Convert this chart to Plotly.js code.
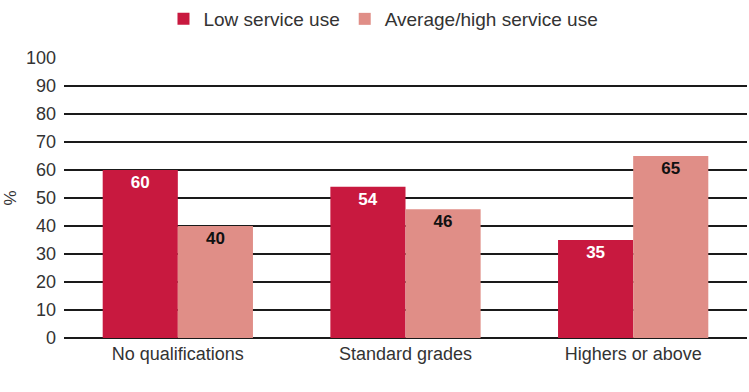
<!DOCTYPE html>
<html>
<head>
<meta charset="utf-8">
<script src="https://cdn.plot.ly/plotly-3.0.1.min.js"></script>
<style>html,body{margin:0;padding:0;background:#fff;}#chart{width:749px;height:392px;}</style>
</head>
<body>
<div id="chart"></div>
<script>
const categories = ["No qualifications", "Standard grades", "Highers or above"];
const lowUse = [60, 54, 35];
const avgHighUse = [40, 46, 65];
const seriesNames = ["Low service use", "Average/high service use"];
const yTicks = [0, 10, 20, 30, 40, 50, 60, 70, 80, 90, 100];

const font = "Liberation Sans, Arial, Helvetica, sans-serif";
const data = [
  {
    type: "bar", name: seriesNames[0], x: categories, y: lowUse,
    marker: {color: "#C8193F"},
    text: lowUse.map(String), textposition: "inside", insidetextanchor: "end",
    textfont: {family: font, size: 17, color: "#ffffff", weight: "bold"},
    textangle: 0, cliponaxis: false, hoverinfo: "skip"
  },
  {
    type: "bar", name: seriesNames[1], x: categories, y: avgHighUse,
    marker: {color: "#E08E87"},
    text: avgHighUse.map(String), textposition: "inside", insidetextanchor: "end",
    textfont: {family: font, size: 17, color: "#111111", weight: "bold"},
    textangle: 0, cliponaxis: false, hoverinfo: "skip"
  }
];

const layout = {
  width: 749, height: 392,
  margin: {l: 64, r: 2, t: 58, b: 54},
  paper_bgcolor: "#fff", plot_bgcolor: "#fff",
  font: {family: font, size: 17, color: "#333"},
  barmode: "group", bargap: 0.34, bargroupgap: 0,
  showlegend: true,
  legend: {
    orientation: "h", x: 0.512, xanchor: "center", xref: "container",
    y: 1.0, yanchor: "top", yref: "container",
    font: {family: font, size: 19, color: "#333"},
    itemwidth: 30, traceorder: "normal"
  },
  xaxis: {
    type: "category", showgrid: false, zeroline: false, showline: false,
    ticks: "", ticklabelstandoff: 3,
    tickfont: {family: font, size: 18, color: "#333"}
  },
  yaxis: {
    range: [0, 100], tickvals: yTicks, ticktext: yTicks.map(String),
    showgrid: true, gridcolor: "#1a1a1a", gridwidth: 1.3,
    zeroline: true, zerolinecolor: "#1a1a1a", zerolinewidth: 1.3,
    showline: false, ticks: "", ticklabelstandoff: 7,
    tickfont: {family: font, size: 18, color: "#333"},
    title: {text: "%", font: {family: font, size: 17, color: "#333"}, standoff: 5}
  }
};

Plotly.newPlot("chart", data, layout, {displayModeBar: false, staticPlot: true});
</script>
</body>
</html>
